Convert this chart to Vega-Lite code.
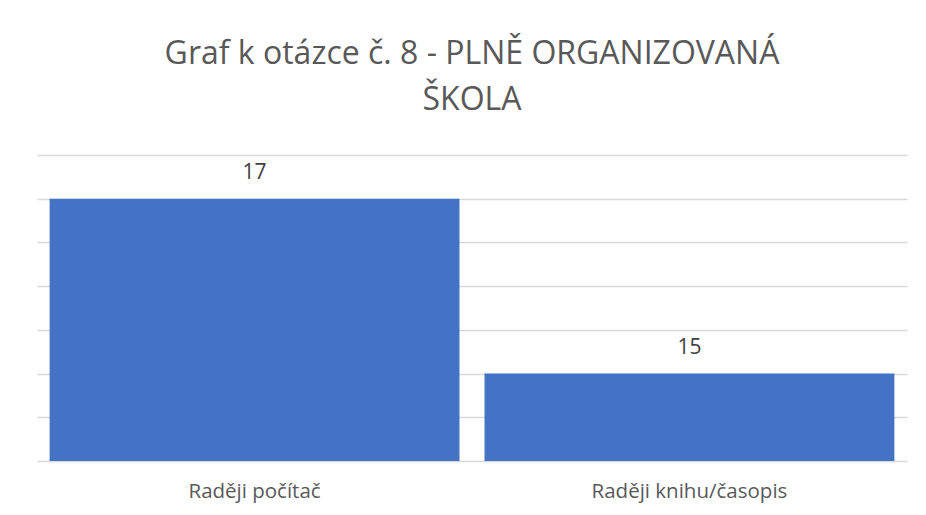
{
  "$schema": "https://vega.github.io/schema/vega-lite/v6.json",
  "width": 870,
  "height": 306,
  "autosize": {"type": "none"},
  "padding": {"left": 37, "top": 155, "right": 19, "bottom": 54},
  "background": "white",
  "config": {"view": {"stroke": null}, "font": "Open Sans"},
  "title": {
    "text": ["Graf k otázce č. 8 - PLNĚ ORGANIZOVANÁ", "ŠKOLA"],
    "fontSize": 32,
    "fontWeight": "normal",
    "color": "#595959",
    "font": "Open Sans",
    "anchor": "middle",
    "lineHeight": 46,
    "offset": 38
  },
  "data": {
    "values": [
      {"odpoved": "Raději počítač", "pocet": 17},
      {"odpoved": "Raději knihu/časopis", "pocet": 15}
    ]
  },
  "encoding": {
    "x": {
      "field": "odpoved",
      "type": "nominal",
      "sort": null,
      "scale": {"paddingInner": 0.0575, "paddingOuter": 0.029},
      "axis": {
        "title": null,
        "labelAngle": 0,
        "domain": false,
        "ticks": false,
        "labelFontSize": 20.5,
        "labelColor": "#595959",
        "labelPadding": 20,
        "labelLimit": 0,
        "labelFont": "Open Sans"
      }
    },
    "y": {
      "field": "pocet",
      "type": "quantitative",
      "scale": {"domain": [14, 17.5], "zero": false, "nice": false},
      "axis": {
        "title": null,
        "labels": false,
        "ticks": false,
        "domain": false,
        "values": [14, 14.5, 15, 15.5, 16, 16.5, 17, 17.5],
        "gridColor": "#d9d9d9",
        "gridWidth": 1.3
      }
    }
  },
  "layer": [
    {
      "mark": {"type": "bar", "color": "#4472C4"},
      "encoding": {"y2": {"datum": 14}}
    },
    {
      "mark": {"type": "text", "dy": -26, "fontSize": 21, "color": "#404040", "font": "Open Sans"},
      "encoding": {"text": {"field": "pocet", "type": "quantitative"}}
    }
  ]
}
